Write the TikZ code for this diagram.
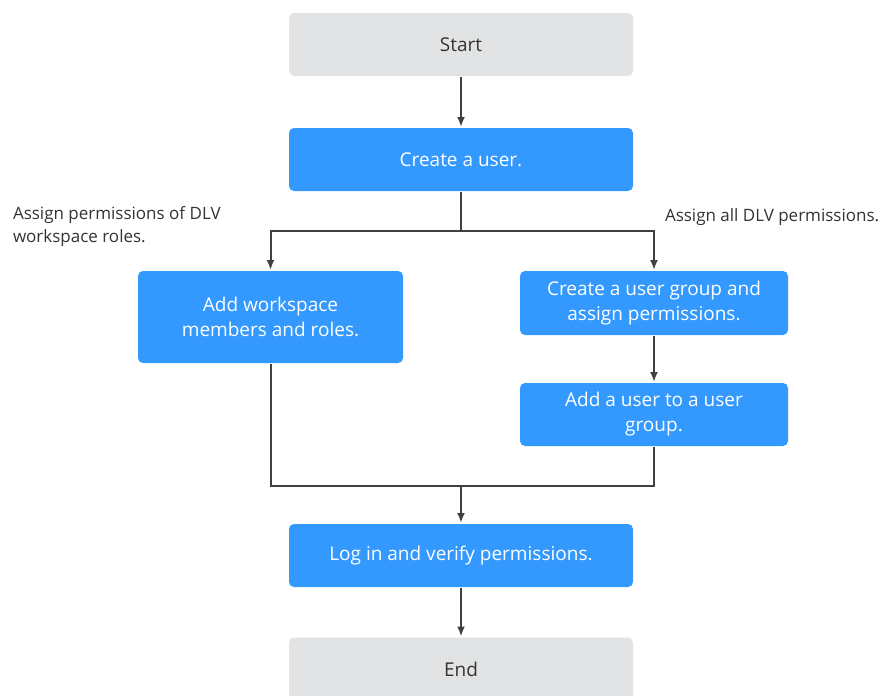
\documentclass[tikz,border=0pt]{standalone}
\usepackage{fontspec}
\setmainfont{Open Sans}
\usetikzlibrary{positioning,calc,arrows.meta}
\definecolor{boxblue}{RGB}{51,153,255}
\definecolor{boxgrey}{RGB}{225,227,228}
\definecolor{linegrey}{RGB}{64,64,64}
\definecolor{txtgrey}{RGB}{51,51,51}
\tikzset{bluebox/.style={draw=none,fill=boxblue,rounded corners=5pt,text=white,align=center,inner sep=0pt,font=\fontsize{19}{25}\selectfont}  }
\tikzset{greybox/.style={draw=none,fill=boxgrey,rounded corners=5pt,text=txtgrey,align=center,inner sep=0pt,font=\fontsize{19}{25}\selectfont}  }
\tikzset{lbl/.style={text=txtgrey,align=left,inner sep=0pt,font=\fontsize{17}{23}\selectfont}  }
\tikzset{>={Latex[length=10pt,width=8pt]}}
\begin{document}
\begin{tikzpicture}[x=1pt,y=-1pt,line width=2pt,draw=linegrey]
  % pixel grid of the original, y pointing down
  \useasboundingbox (0,0) rectangle (887,696);

  \node[greybox,minimum width=344pt,minimum height=63pt] (start) at (461,44.5) {Start};
  \node[bluebox,minimum width=344pt,minimum height=63pt] (user) at (461,159.5) {Create a user.};
  \node[bluebox,minimum width=265pt,minimum height=92pt] (members) at (270.5,317) {Add workspace\\members and roles.};
  \node[bluebox,minimum width=268pt,minimum height=64pt] (group) at (654,303) {Create a user group and\\assign permissions.};
  \node[bluebox,minimum width=268pt,minimum height=63pt] (addto) at (654,414.5) {Add a user to a user\\group.};
  \node[bluebox,minimum width=344pt,minimum height=63pt] (login) at (461,555.5) {Log in and verify permissions.};
  \node[greybox,minimum width=344pt,minimum height=63pt] (end) at (461,669) {End};

  \node[lbl,anchor=north west] (lleft) at (12,205) {Assign permissions of DLV\\workspace roles.};
  \node[lbl,anchor=west] (lright) at (664,217) {Assign all DLV permissions.};

  \coordinate (split) at (461,231);
  \coordinate (join) at (461,486);

  \draw[->] (start)--(user);
  \draw (user.south)--(split);
  \draw[->] (split)-|(members.north);
  \draw[->] (split)-|(group.north);
  \draw[->] (group)--(addto);
  \draw (members.south)|-(join);
  \draw (addto.south)|-(join);
  \draw[->] (join)--(login);
  \draw[->] (login)--(end);
\end{tikzpicture}
\end{document}
